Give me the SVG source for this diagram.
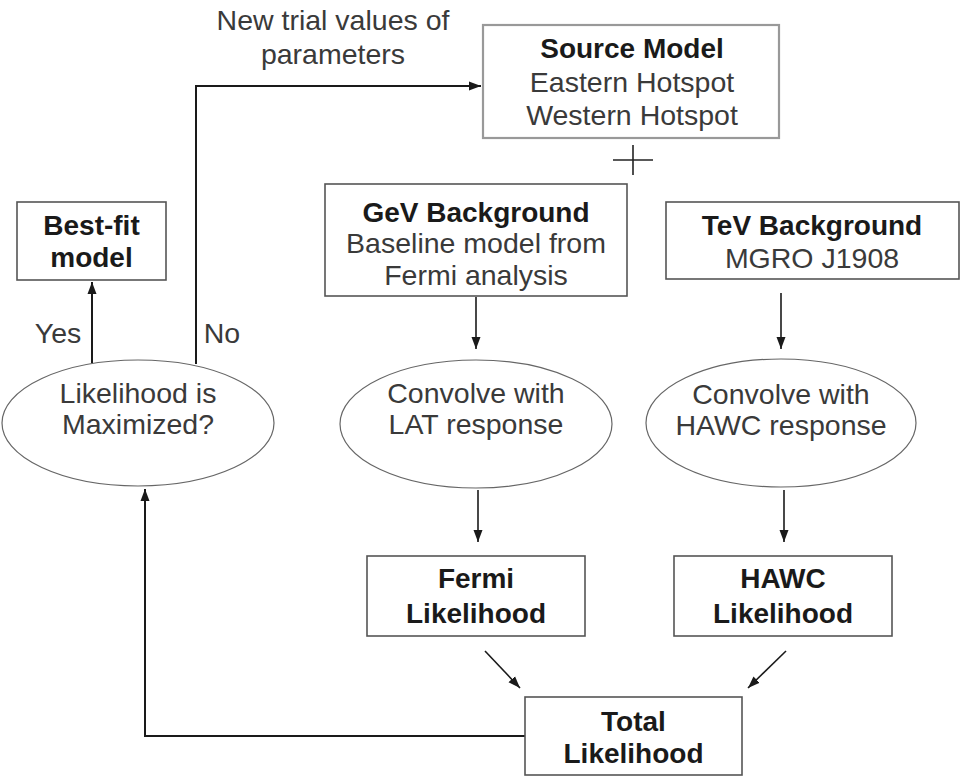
<svg xmlns="http://www.w3.org/2000/svg" width="961" height="777" viewBox="0 0 961 777">
<defs>
<marker id="ah" viewBox="0 0 12 10" refX="12" refY="5" markerWidth="12" markerHeight="10" markerUnits="userSpaceOnUse" orient="auto">
<path d="M0,0.5 L12,5 L0,9.5 Z" fill="#1a1a1a"/>
</marker>
<style>
.box{fill:#fff;stroke:#555;stroke-width:1.6}
.src{fill:#fff;stroke:#999;stroke-width:2.2}
.ell{fill:#fff;stroke:#666;stroke-width:1.2}
.t{font-family:"Liberation Sans",Arial,sans-serif;font-size:28.5px;fill:#3a3a3a;text-anchor:middle}
.b{font-family:"Liberation Sans",Arial,sans-serif;font-size:28px;font-weight:bold;fill:#1a1a1a;text-anchor:middle}
.ln{fill:none;stroke:#1a1a1a;stroke-width:2}
.ln2{fill:none;stroke:#1a1a1a;stroke-width:1.6}
</style>
</defs>
<rect width="961" height="777" fill="#fff"/>
<g id="connectors">
<polyline class="ln" points="196,364 196,86 481,86" marker-end="url(#ah)"/>
<line class="ln" x1="92" y1="363" x2="92" y2="282" marker-end="url(#ah)"/>
<line class="ln2" x1="476" y1="297" x2="476" y2="349" marker-end="url(#ah)"/>
<line class="ln2" x1="781" y1="293" x2="781" y2="349" marker-end="url(#ah)"/>
<line class="ln2" x1="478" y1="490" x2="478" y2="542" marker-end="url(#ah)"/>
<line class="ln2" x1="784" y1="490" x2="784" y2="542" marker-end="url(#ah)"/>
<line class="ln2" x1="485" y1="651" x2="520" y2="688" marker-end="url(#ah)"/>
<line class="ln2" x1="786" y1="651" x2="748" y2="688" marker-end="url(#ah)"/>
<polyline class="ln" points="525,736 145,736 145,489" marker-end="url(#ah)"/>
<text class="t" x="333" y="30">New trial values of</text>
<text class="t" x="333" y="64">parameters</text>
<text class="t" x="58" y="343">Yes</text>
<text class="t" x="222" y="343">No</text>
</g>
<g id="source-model">
<rect class="src" x="483" y="25" width="296" height="113"/>
<text class="b" x="632" y="58">Source Model</text>
<text class="t" x="632" y="92">Eastern Hotspot</text>
<text class="t" x="632" y="125">Western Hotspot</text>
</g>
<g id="plus">
<line x1="613" y1="160" x2="653" y2="160" stroke="#222" stroke-width="1.6"/>
<line x1="633" y1="145" x2="633" y2="175" stroke="#222" stroke-width="1.6"/>
</g>
<g id="best-fit">
<rect class="box" x="17" y="202" width="149" height="78"/>
<text class="b" x="91.5" y="235">Best-fit</text>
<text class="b" x="91.5" y="267">model</text>
</g>
<g id="gev-background">
<rect class="box" x="325" y="184" width="302" height="112"/>
<text class="b" x="476" y="222">GeV Background</text>
<text class="t" x="476" y="253">Baseline model from</text>
<text class="t" x="476" y="285">Fermi analysis</text>
</g>
<g id="tev-background">
<rect class="box" x="666" y="202" width="293" height="77"/>
<text class="b" x="812" y="235">TeV Background</text>
<text class="t" x="812" y="268">MGRO J1908</text>
</g>
<g id="likelihood-max">
<ellipse class="ell" cx="138" cy="423" rx="136" ry="63"/>
<text class="t" x="138" y="403">Likelihood is</text>
<text class="t" x="138" y="434">Maximized?</text>
</g>
<g id="convolve-lat">
<ellipse class="ell" cx="476" cy="424" rx="136" ry="64"/>
<text class="t" x="476" y="403">Convolve with</text>
<text class="t" x="476" y="434">LAT response</text>
</g>
<g id="convolve-hawc">
<ellipse class="ell" cx="781" cy="423" rx="135" ry="64"/>
<text class="t" x="781" y="404">Convolve with</text>
<text class="t" x="781" y="435">HAWC response</text>
</g>
<g id="fermi-likelihood">
<rect class="box" x="367" y="556" width="218" height="80"/>
<text class="b" x="476" y="588">Fermi</text>
<text class="b" x="476" y="623">Likelihood</text>
</g>
<g id="hawc-likelihood">
<rect class="box" x="674" y="556" width="218" height="80"/>
<text class="b" x="783" y="588">HAWC</text>
<text class="b" x="783" y="623">Likelihood</text>
</g>
<g id="total-likelihood">
<rect class="box" x="525" y="697" width="217" height="78"/>
<text class="b" x="633.5" y="731">Total</text>
<text class="b" x="633.5" y="763">Likelihood</text>
</g>
</svg>
